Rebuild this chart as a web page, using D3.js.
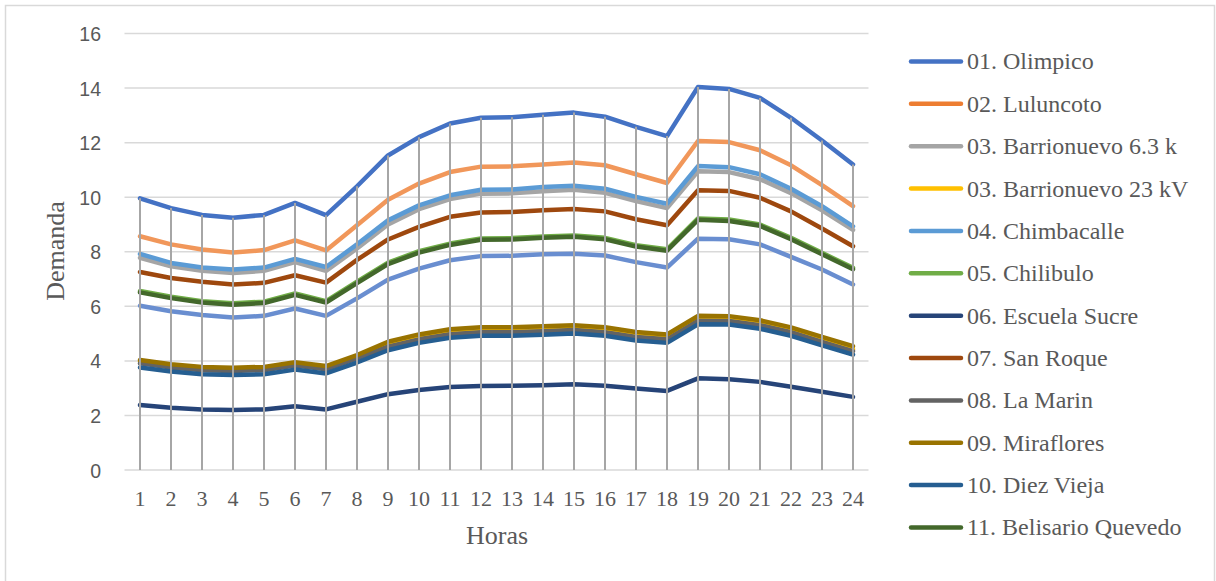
<!DOCTYPE html>
<html>
<head>
<meta charset="utf-8">
<script src="https://cdn.jsdelivr.net/npm/d3@7"></script>
<style>
  html, body { margin: 0; padding: 0; background: #ffffff; }
  svg { display: block; }
</style>
</head>
<body>
<svg id="chart" width="1216" height="581"></svg>
<script>
// Hourly demand per substation
const hours = d3.range(1, 25);
const yTicks = [0, 2, 4, 6, 8, 10, 12, 14, 16];

const seriesNames = [
  "01. Olimpico",
  "02. Luluncoto",
  "03. Barrionuevo 6.3 k",
  "03. Barrionuevo 23 kV",
  "04. Chimbacalle",
  "05. Chilibulo",
  "06. Escuela Sucre",
  "07. San Roque",
  "08. La Marin",
  "09. Miraflores",
  "10. Diez Vieja",
  "11. Belisario Quevedo",
  "12. Total parcial"
];

const olimpico      = [9.96, 9.60, 9.35, 9.25, 9.35, 9.79, 9.34, 10.40, 11.53, 12.20, 12.70, 12.91, 12.93, 13.02, 13.10, 12.95, 12.58, 12.24, 14.04, 13.97, 13.64, 12.91, 12.08, 11.20];
const luluncoto     = [8.57, 8.27, 8.08, 7.97, 8.06, 8.42, 8.05, 8.97, 9.91, 10.50, 10.92, 11.12, 11.13, 11.20, 11.27, 11.17, 10.84, 10.52, 12.06, 12.02, 11.72, 11.17, 10.44, 9.67];
const barrionuevo63 = [7.78, 7.47, 7.30, 7.22, 7.30, 7.62, 7.30, 8.12, 9.00, 9.56, 9.93, 10.13, 10.14, 10.22, 10.27, 10.16, 9.86, 9.60, 10.95, 10.92, 10.66, 10.15, 9.52, 8.80];
const barrionuevo23 = [3.98, 3.83, 3.73, 3.70, 3.73, 3.90, 3.76, 4.16, 4.59, 4.86, 5.05, 5.12, 5.12, 5.16, 5.20, 5.12, 4.95, 4.86, 5.54, 5.53, 5.38, 5.12, 4.77, 4.43];
const chimbacalle   = [7.92, 7.59, 7.42, 7.35, 7.42, 7.74, 7.44, 8.27, 9.15, 9.70, 10.07, 10.27, 10.28, 10.37, 10.42, 10.31, 10.01, 9.76, 11.14, 11.10, 10.84, 10.31, 9.67, 8.93];
const chilibulo     = [6.56, 6.35, 6.19, 6.11, 6.17, 6.47, 6.19, 6.90, 7.60, 8.02, 8.30, 8.49, 8.50, 8.56, 8.60, 8.51, 8.24, 8.09, 9.22, 9.18, 9.00, 8.51, 7.96, 7.41];
const escuelaSucre  = [2.38, 2.28, 2.22, 2.20, 2.22, 2.34, 2.22, 2.50, 2.78, 2.93, 3.04, 3.08, 3.09, 3.11, 3.14, 3.09, 2.99, 2.90, 3.36, 3.33, 3.23, 3.05, 2.87, 2.68];
const sanRoque      = [7.26, 7.04, 6.90, 6.80, 6.86, 7.14, 6.87, 7.70, 8.45, 8.91, 9.28, 9.44, 9.46, 9.52, 9.57, 9.48, 9.19, 8.97, 10.25, 10.23, 9.98, 9.48, 8.85, 8.20];
const laMarin       = [3.91, 3.76, 3.66, 3.63, 3.66, 3.83, 3.69, 4.09, 4.52, 4.79, 4.98, 5.05, 5.05, 5.09, 5.13, 5.05, 4.88, 4.79, 5.47, 5.46, 5.31, 5.05, 4.70, 4.36];
const miraflores    = [4.03, 3.88, 3.78, 3.75, 3.78, 3.95, 3.81, 4.21, 4.70, 4.97, 5.16, 5.23, 5.23, 5.27, 5.31, 5.23, 5.06, 4.97, 5.65, 5.64, 5.49, 5.23, 4.88, 4.54];
const diezVieja     = [3.76, 3.61, 3.51, 3.48, 3.51, 3.68, 3.54, 3.94, 4.39, 4.66, 4.85, 4.92, 4.92, 4.96, 5.00, 4.92, 4.75, 4.66, 5.34, 5.33, 5.18, 4.92, 4.57, 4.23];
const belisario     = [6.51, 6.30, 6.14, 6.06, 6.12, 6.42, 6.14, 6.85, 7.55, 7.97, 8.25, 8.44, 8.45, 8.51, 8.55, 8.46, 8.19, 8.04, 9.17, 9.13, 8.95, 8.46, 7.91, 7.36];
const parcial       = [6.02, 5.82, 5.68, 5.59, 5.65, 5.92, 5.65, 6.29, 6.98, 7.38, 7.69, 7.84, 7.85, 7.91, 7.93, 7.86, 7.62, 7.42, 8.48, 8.46, 8.27, 7.81, 7.35, 6.80];

const seriesValues = [olimpico, luluncoto, barrionuevo63, barrionuevo23, chimbacalle, chilibulo,
                      escuelaSucre, sanRoque, laMarin, miraflores, diezVieja, belisario, parcial];

const lineColors   = ["#4472C4", "#F1975A", "#A5A5A5", "#FFC000", "#5B9BD5", "#70AD47",
                      "#264478", "#9E480E", "#636363", "#997300", "#255E91", "#43682B", "#698ED0"];
const legendColors = ["#4472C4", "#ED7D31", "#A5A5A5", "#FFC000", "#5B9BD5", "#70AD47",
                      "#264478", "#9E480E", "#636363", "#997300", "#255E91", "#43682B"];

const svg = d3.select("#chart");
const textColor = "#595959";

// chart frame
svg.append("rect")
  .attr("x", 5.5).attr("y", 5.5)
  .attr("width", 1209).attr("height", 600)
  .attr("fill", "#ffffff")
  .attr("stroke", "#d9d9d9").attr("stroke-width", 1.5);

const x = d3.scaleBand().domain(hours).range([124.5, 868.5]);
const xc = h => x(h) + x.bandwidth() / 2;
const y = d3.scaleLinear().domain([0, 16]).range([470, 33.5]);

// horizontal gridlines
svg.append("g").selectAll("line").data(yTicks).join("line")
  .attr("x1", 124.5).attr("x2", 868.5)
  .attr("y1", d => y(d)).attr("y2", d => y(d))
  .attr("stroke", "#d9d9d9").attr("stroke-width", 1.5);

// y axis labels
const yAxis = d3.axisLeft(y).tickValues(yTicks).tickSize(0).tickPadding(0);
svg.append("g")
  .attr("transform", "translate(101,0)")
  .call(yAxis)
  .call(g => g.select(".domain").remove())
  .call(g => g.selectAll("text")
    .attr("fill", textColor)
    .attr("font-family", "'Liberation Sans', Arial, sans-serif")
    .attr("font-size", "19.5px")
    .attr("dy", "0.36em"));

// x axis labels
const xAxis = d3.axisBottom(x).tickSize(0).tickPadding(0);
svg.append("g")
  .attr("transform", "translate(0,470)")
  .call(xAxis)
  .call(g => g.select(".domain").remove())
  .call(g => g.selectAll("text")
    .attr("fill", textColor)
    .attr("font-family", "'Liberation Serif', 'Times New Roman', serif")
    .attr("font-size", "22px")
    .attr("y", 36).attr("dy", 0));

// series lines
const line = d3.line()
  .x((d, i) => xc(hours[i]))
  .y(d => y(d));

svg.append("g").selectAll("path").data(seriesValues).join("path")
  .attr("d", d => line(d))
  .attr("fill", "none")
  .attr("stroke", (d, i) => lineColors[i])
  .attr("stroke-width", 4.5)
  .attr("stroke-linecap", "round")
  .attr("stroke-linejoin", "round");

// drop lines from the highest value to the axis
const maxByHour = hours.map((h, i) => d3.max(seriesValues, s => s[i]));
svg.append("g").selectAll("line").data(maxByHour).join("line")
  .attr("x1", (d, i) => xc(hours[i])).attr("x2", (d, i) => xc(hours[i]))
  .attr("y1", d => y(d)).attr("y2", y(0))
  .attr("stroke", "#a6a6a6").attr("stroke-width", 2);

// axis titles
svg.append("text")
  .attr("x", 497).attr("y", 544)
  .attr("text-anchor", "middle")
  .attr("fill", textColor)
  .attr("font-family", "'Liberation Serif', 'Times New Roman', serif")
  .attr("font-size", "26px")
  .text("Horas");

svg.append("text")
  .attr("transform", "translate(64,251) rotate(-90)")
  .attr("text-anchor", "middle")
  .attr("fill", textColor)
  .attr("font-family", "'Liberation Serif', 'Times New Roman', serif")
  .attr("font-size", "26px")
  .text("Demanda");

// legend
const legendRows = legendColors.map((c, i) => ({ name: seriesNames[i], color: c }));
const lg = svg.append("g").selectAll("g").data(legendRows).join("g")
  .attr("transform", (d, i) => `translate(0,${61.5 + i * 42.36})`);
lg.append("line")
  .attr("x1", 911).attr("x2", 961)
  .attr("y1", 0).attr("y2", 0)
  .attr("stroke", d => d.color)
  .attr("stroke-width", 4.5)
  .attr("stroke-linecap", "round");
lg.append("text")
  .attr("x", 967).attr("y", 0).attr("dy", "0.33em")
  .attr("fill", textColor)
  .attr("font-family", "'Liberation Serif', 'Times New Roman', serif")
  .attr("font-size", "24px")
  .text(d => d.name);
</script>
</body>
</html>
